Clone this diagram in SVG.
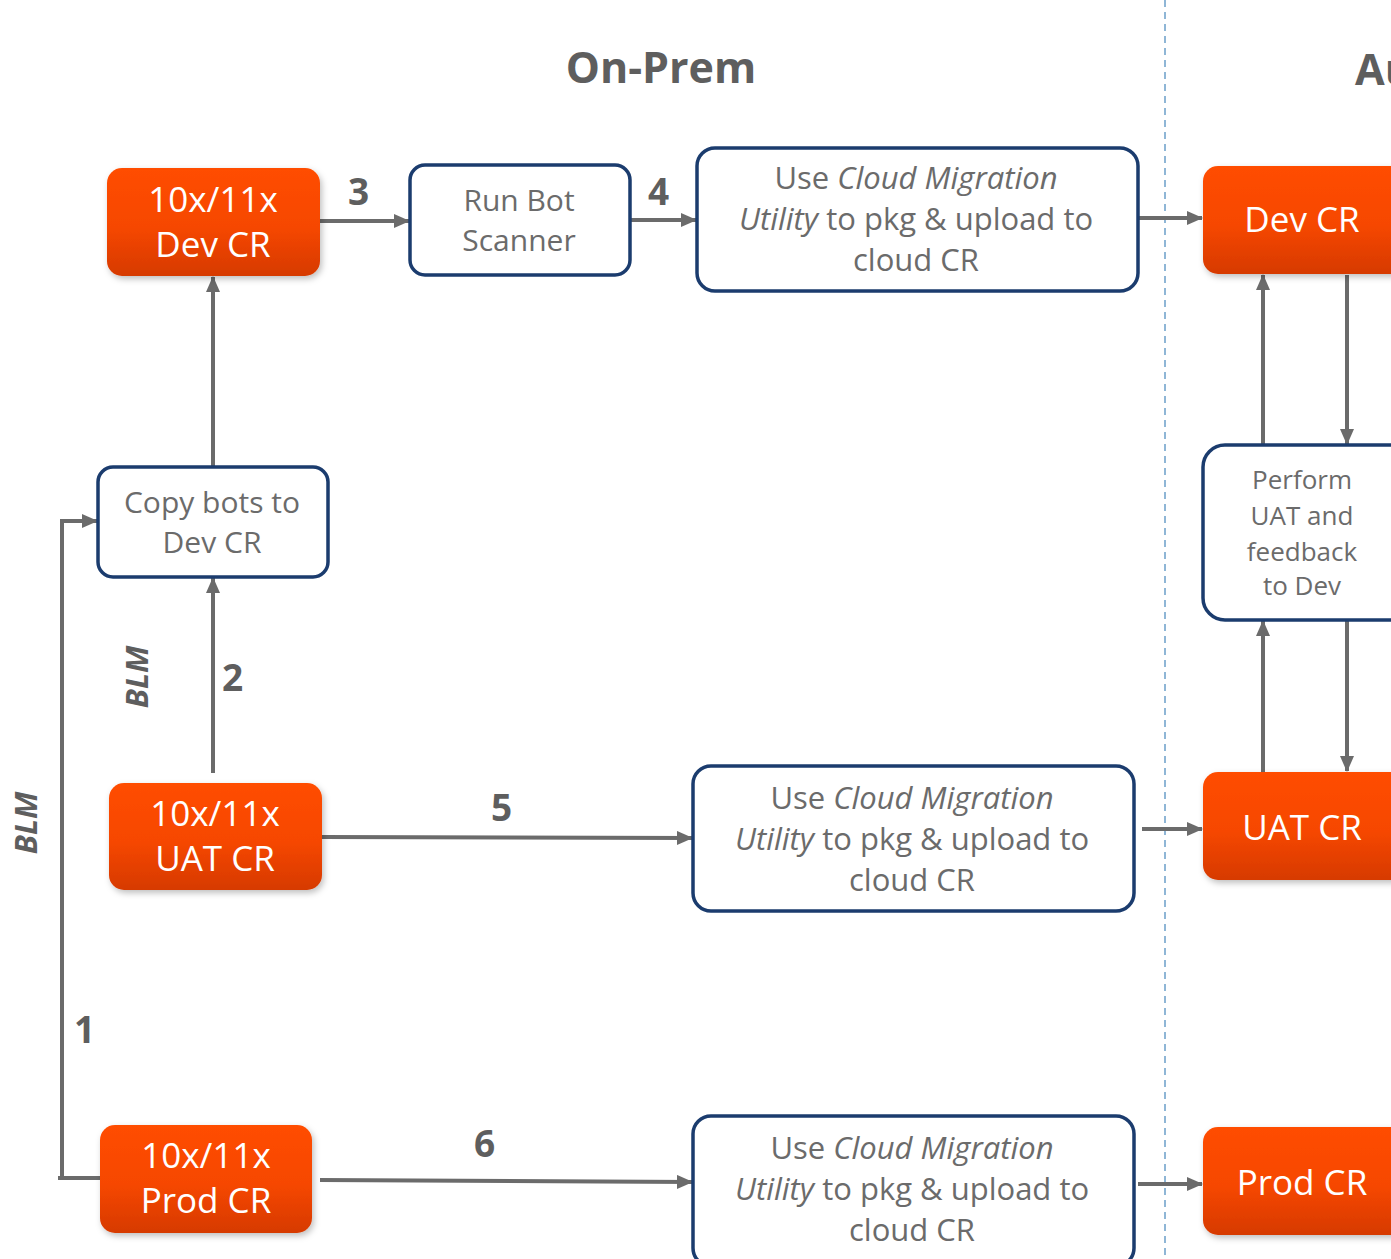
<svg xmlns="http://www.w3.org/2000/svg" width="1391" height="1259" viewBox="0 0 1391 1259">
<defs>
<linearGradient id="og" x1="0" y1="0" x2="0" y2="1">
<stop offset="0" stop-color="#ff4d00"/>
<stop offset="0.55" stop-color="#f64700"/>
<stop offset="1" stop-color="#d63a00"/>
</linearGradient>
<filter id="sh" x="-10%" y="-10%" width="125%" height="130%">
<feDropShadow dx="2" dy="3" stdDeviation="3" flood-color="#000" flood-opacity="0.25"/>
</filter>
<marker id="ah" markerWidth="16" markerHeight="14" refX="15" refY="7" orient="auto" markerUnits="userSpaceOnUse">
<path d="M0,0 L16,7 L0,14 Z" fill="#6b6b6b"/>
</marker>
</defs>
<style>
.org{fill:url(#og);filter:url(#sh)}
.wht{fill:#fff;stroke:#1b3c6e;stroke-width:3.5}
.ot{font-family:"Open Sans","Noto Sans",sans-serif;font-size:35px;fill:#fff;text-anchor:middle}
.wt{font-family:"Open Sans","Noto Sans",sans-serif;font-size:30px;fill:#6b6b6b;text-anchor:middle}
.ct{font-family:"Open Sans","Noto Sans",sans-serif;font-size:31px;fill:#6b6b6b;text-anchor:middle}
.pt{font-family:"Open Sans","Noto Sans",sans-serif;font-size:26px;fill:#6b6b6b;text-anchor:middle}
.num{font-family:"Open Sans","Noto Sans",sans-serif;font-size:37px;font-weight:bold;fill:#5e5e5e}
.blm{font-family:"Open Sans","Noto Sans",sans-serif;font-size:31px;font-weight:bold;font-style:italic;fill:#5e5e5e;text-anchor:middle}
.ttl{font-family:"Open Sans","Noto Sans",sans-serif;font-size:43px;font-weight:bold;fill:#5e5e5e}
.ca{fill:none;stroke:#6b6b6b;stroke-width:4;marker-end:url(#ah)}
</style>
<rect width="1391" height="1259" fill="#fff"/>
<line x1="1165" y1="0" x2="1165" y2="1259" stroke="#8fb6d6" stroke-width="2" stroke-dasharray="7,5"/>
<text class="ttl" x="661" y="83" text-anchor="middle">On-Prem</text>
<text class="ttl" x="1355" y="85">Au</text>

<g id="connectors">
<line class="ca" x1="320" y1="221" x2="409" y2="221"/>
<line class="ca" x1="630" y1="220" x2="696" y2="220"/>
<line class="ca" x1="1138" y1="218" x2="1202" y2="218"/>
<line class="ca" x1="213" y1="467" x2="213" y2="277"/>
<line class="ca" x1="213" y1="773" x2="213" y2="578"/>
<polyline class="ca" points="100,1178 58,1178 62,1178 62,521 97,521"/>
<line class="ca" x1="322" y1="837" x2="692" y2="838"/>
<line class="ca" x1="1142" y1="829" x2="1202" y2="829"/>
<line class="ca" x1="320" y1="1180" x2="692" y2="1182"/>
<line class="ca" x1="1138" y1="1184" x2="1202" y2="1184"/>
<line class="ca" x1="1263" y1="445" x2="1263" y2="275"/>
<line class="ca" x1="1347" y1="275" x2="1347" y2="444"/>
<line class="ca" x1="1263" y1="772" x2="1263" y2="621"/>
<line class="ca" x1="1347" y1="621" x2="1347" y2="771"/>
<text class="num" x="348" y="205">3</text>
<text class="num" x="648" y="205">4</text>
<text class="num" x="222" y="691">2</text>
<text class="num" x="74" y="1043">1</text>
<text class="num" x="491" y="821">5</text>
<text class="num" x="474" y="1157">6</text>
<text class="blm" transform="translate(148,677) rotate(-90)">BLM</text>
<text class="blm" transform="translate(37,823) rotate(-90)">BLM</text>
</g>

<g id="devcr-onprem">
<rect class="org" x="107" y="168" width="213" height="108" rx="15"/>
<text class="ot" x="213" y="212">10x/11x</text>
<text class="ot" x="213" y="257">Dev CR</text>
</g>
<g id="run-bot-scanner">
<rect class="wht" x="410" y="165" width="220" height="110" rx="15"/>
<text class="wt" x="519" y="211">Run Bot</text>
<text class="wt" x="519" y="251">Scanner</text>
</g>
<g id="cmu-dev">
<rect class="wht" x="697" y="148" width="441" height="143" rx="18"/>
<text class="ct" x="916" y="189">Use <tspan font-style="italic">Cloud Migration</tspan></text>
<text class="ct" x="916" y="230"><tspan font-style="italic">Utility</tspan> to pkg &amp; upload to</text>
<text class="ct" x="916" y="271">cloud CR</text>
</g>
<g id="copy-bots">
<rect class="wht" x="98" y="467" width="230" height="110" rx="15"/>
<text class="wt" x="212" y="513">Copy bots to</text>
<text class="wt" x="212" y="553">Dev CR</text>
</g>
<g id="uatcr-onprem">
<rect class="org" x="109" y="783" width="213" height="107" rx="15"/>
<text class="ot" x="215" y="826">10x/11x</text>
<text class="ot" x="215" y="871">UAT CR</text>
</g>
<g id="cmu-uat">
<rect class="wht" x="693" y="766" width="441" height="145" rx="18"/>
<text class="ct" x="912" y="809">Use <tspan font-style="italic">Cloud Migration</tspan></text>
<text class="ct" x="912" y="850"><tspan font-style="italic">Utility</tspan> to pkg &amp; upload to</text>
<text class="ct" x="912" y="891">cloud CR</text>
</g>
<g id="prodcr-onprem">
<rect class="org" x="100" y="1125" width="212" height="108" rx="15"/>
<text class="ot" x="206" y="1168">10x/11x</text>
<text class="ot" x="206" y="1213">Prod CR</text>
</g>
<g id="cmu-prod">
<rect class="wht" x="693" y="1116" width="441" height="150" rx="18"/>
<text class="ct" x="912" y="1159">Use <tspan font-style="italic">Cloud Migration</tspan></text>
<text class="ct" x="912" y="1200"><tspan font-style="italic">Utility</tspan> to pkg &amp; upload to</text>
<text class="ct" x="912" y="1241">cloud CR</text>
</g>
<g id="devcr-cloud">
<rect class="org" x="1203" y="166" width="215" height="108" rx="15"/>
<text class="ot" x="1302" y="232">Dev CR</text>
</g>
<g id="perform-uat">
<rect class="wht" x="1203" y="445" width="215" height="175" rx="22"/>
<text class="pt" x="1302" y="489">Perform</text>
<text class="pt" x="1302" y="525">UAT and</text>
<text class="pt" x="1302" y="561">feedback</text>
<text class="pt" x="1302" y="595">to Dev</text>
</g>
<g id="uatcr-cloud">
<rect class="org" x="1203" y="772" width="215" height="108" rx="15"/>
<text class="ot" x="1302" y="840">UAT CR</text>
</g>
<g id="prodcr-cloud">
<rect class="org" x="1203" y="1127" width="215" height="108" rx="15"/>
<text class="ot" x="1302" y="1195">Prod CR</text>
</g>
</svg>
